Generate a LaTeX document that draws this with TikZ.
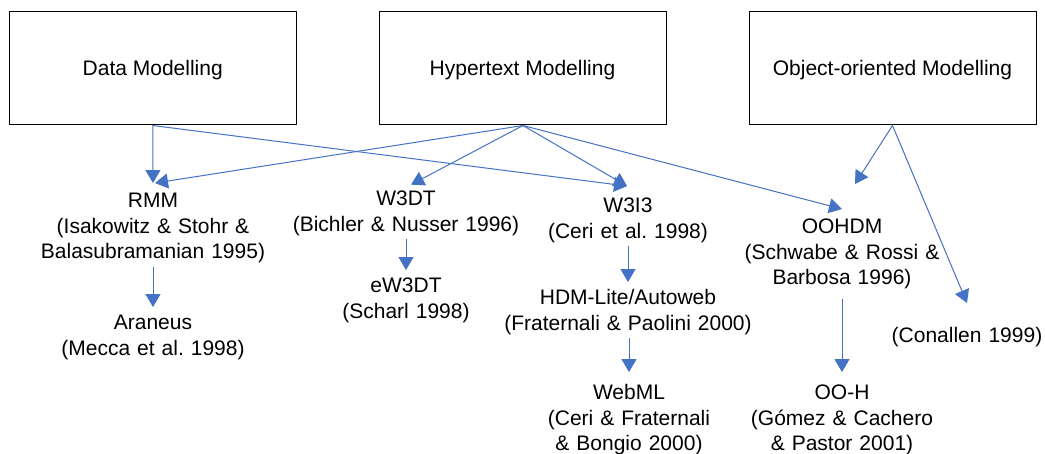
\documentclass[tikz,border=0pt]{standalone}
\usepackage{fontspec}
\setmainfont{Liberation Sans}
\usetikzlibrary{arrows.meta}
\definecolor{arrowblue}{HTML}{4472C4}
\newcommand\lblstrut{\rule[-7.65pt]{0pt}{25.5pt}}
\frenchspacing
\begin{document}
\begin{tikzpicture}[x=1pt,y=-1pt,
  box/.style={draw=black,line width=1pt,minimum width=287pt,minimum height=113.5pt,inner sep=0pt,
    font=\fontsize{21}{25.5}\selectfont,text height=15pt,text depth=0pt},
  lbl/.style={anchor=north,inner sep=0pt,text width=320pt,align=center,
    font=\fontsize{21}{25.5}\selectfont\frenchspacing,
    execute at begin node=\lblstrut,execute at end node=\lblstrut},
  conn/.style={draw=arrowblue,line width=1pt,-{Triangle[width=15pt,length=13pt]}}]
\useasboundingbox[fill=white] (0,0) rectangle (1045,454);

% top boxes
\node[box] (dm) at (152.75,68.25) {Data Modelling};
\node[box] (ht) at (522.5,68.25) {Hypertext Modelling};
\node[box] (oo) at (892.5,68.25) {Object-oriented Modelling};

% labels
\node[lbl] (rmm) at (153,189.65) {RMM\\(Isakowitz \& Stohr \&\\Balasubramanian 1995)};
\node[lbl] (ara) at (153,311.65) {Araneus\\(Mecca et al. 1998)};
\node[lbl] (w3dt) at (406,187.65) {W3DT\\(Bichler \& Nusser 1996)};
\node[lbl] (ew3dt) at (406,274.65) {eW3DT\\(Scharl 1998)};
\node[lbl] (w3i3) at (628,194.65) {W3I3\\(Ceri et al. 1998)};
\node[lbl] (hdm) at (628,286.65) {HDM-Lite/Autoweb\\(Fraternali \& Paolini 2000)};
\node[lbl] (webml) at (629,381.65) {WebML\\(Ceri \& Fraternali\\\& Bongio 2000)};
\node[lbl] (oohdm) at (842,215.65) {OOHDM\\(Schwabe \& Rossi \&\\Barbosa 1996)};
\node[lbl] (ooh) at (842,381.65) {OO-H\\(Gómez \& Cachero\\\& Pastor 2001)};
\node[lbl] (con) at (967,324.65) {(Conallen 1999)};

% connectors
\draw[conn] (dm.south) -- ([yshift=6.6pt]rmm.north);
\draw[conn] (dm.south) -- ([xshift=-1pt,yshift=8.6pt]w3i3.north);
\draw[conn] ([xshift=0.5pt]ht.south) -- ([xshift=2pt,yshift=6.6pt]rmm.north);
\draw[conn] ([xshift=0.5pt]ht.south) -- ([xshift=5pt,yshift=3pt]w3dt.north);
\draw[conn] ([xshift=0.5pt]ht.south) -- ([xshift=-1pt,yshift=8.6pt]w3i3.north);
\draw[conn] ([xshift=0.5pt]ht.south) -- ([yshift=6.6pt]oohdm.north);
\draw[conn] (oo.south) -- ([xshift=13pt,yshift=31.6pt]oohdm.north);
\draw[conn] (oo.south) -- ([yshift=21.6pt]con.north);
\draw[conn] (rmm.south) -- ([yshift=4.6pt]ara.north);
\draw[conn] (w3dt.south) -- ([yshift=4.6pt]ew3dt.north);
\draw[conn] (w3i3.south) -- ([yshift=4.6pt]hdm.north);
\draw[conn] ([xshift=1pt]hdm.south) -- ([yshift=9.6pt]webml.north);
\draw[conn] ([yshift=-6pt]oohdm.south) -- ([yshift=9.6pt]ooh.north);
\end{tikzpicture}
\end{document}
